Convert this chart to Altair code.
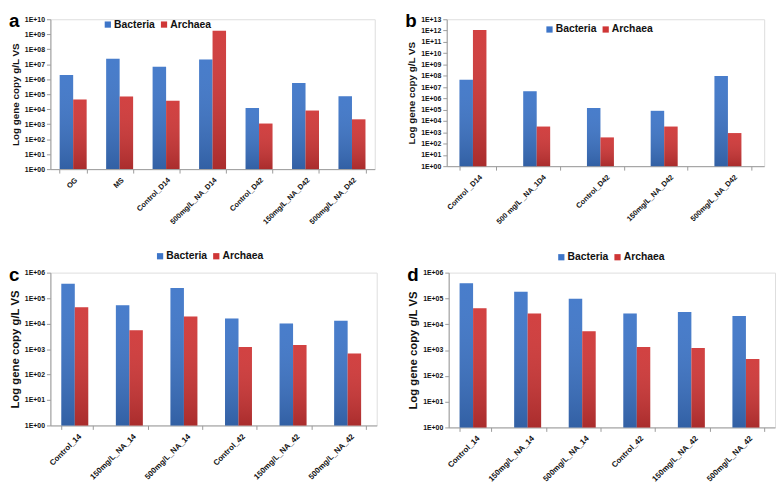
import altair as alt
import pandas as pd

SERIES = ["Bacteria", "Archaea"]
COLORS = ["#3d75c8", "#cf3636"]
FONT = "Liberation Sans"

a_cats = ["OG", "MS", "Control_D14", "500mg/L_NA_D14", "Control_D42", "150mg/L_NA_D42", "500mg/L_NA_D42"]
a_bac = [1.9e6, 2.3e7, 6.8e6, 2.1e7, 1.2e4, 5.5e5, 7.4e4]
a_arc = [4.5e4, 7.0e4, 3.6e4, 1.7e9, 1.1e3, 8.1e3, 2.1e3]

b_cats = ["Control _D14", "500 mg/L _NA_1D4", "Control_D42", "150mg/L_NA_D42", "500mg/L_NA_D42"]
b_bac = [4.5e7, 4.3e6, 1.4e5, 7.9e4, 9.3e7]
b_arc = [1.1e12, 3.2e3, 3.5e2, 3.2e3, 8.5e2]

c_cats = ["Control_14", "150mg/L_NA_14", "500mg/L_NA_14", "Control_42", "150mg/L_NA_42", "500mg/L_NA_42"]
c_bac = [3.7e5, 5.3e4, 2.5e5, 1.6e4, 1.0e4, 1.3e4]
c_arc = [4.4e4, 5.5e3, 1.9e4, 1.2e3, 1.45e3, 6.7e2]

d_cats = ["Control_14", "150mg/L_NA_14", "500mg/L_NA_14", "Control_42", "150mg/L_NA_42", "500mg/L_NA_42"]
d_bac = [3.9e5, 1.8e5, 9.7e4, 2.6e4, 3.0e4, 2.1e4]
d_arc = [4.2e4, 2.6e4, 5.3e3, 1.3e3, 1.2e3, 4.5e2]

LABEL_EXPR = "'1E+' + (datum.value < 1e10 ? '0' : '') + format(log(datum.value)/LN10, '.0f')"


def panel(letter, cats, bac, arc, top_exp, w, h, lx, ly, xfs, yfs, tfs):
    n = len(cats)
    df = pd.DataFrame({
        "cat": cats * 2,
        "series": ["Bacteria"] * n + ["Archaea"] * n,
        "value": bac + arc,
    })
    ticks = [10 ** k for k in range(top_exp + 1)]
    x = alt.X("cat:N", sort=cats, title=None,
              scale=alt.Scale(paddingInner=0.42, paddingOuter=0.2),
              axis=alt.Axis(labelAngle=-45, labelFont=FONT, labelFontWeight="bold",
                            labelFontSize=xfs, labelColor="#111", tickBand="extent",
                            domainColor="#9a9a9a", tickColor="#9a9a9a", tickSize=4,
                            labelPadding=3))
    y = alt.Y("value:Q",
              scale=alt.Scale(type="log", domain=[1, 10 ** top_exp], nice=False),
              axis=alt.Axis(values=ticks, labelExpr=LABEL_EXPR, title="Log gene copy g/L VS",
                            labelFont=FONT, labelFontWeight="bold", labelFontSize=yfs,
                            labelColor="#111", titleFont=FONT, titleFontWeight="bold",
                            titleFontSize=tfs, titleColor="#111", domainColor="#9a9a9a",
                            tickColor="#9a9a9a", tickSize=4, grid=False, titlePadding=4,
                            labelPadding=2))
    xo = alt.XOffset("series:N", sort=SERIES, scale=alt.Scale(domain=SERIES))
    base = alt.Chart(df).encode(x=x, xOffset=xo, y=y, y2=alt.datum(1))
    bars = base.mark_bar(strokeWidth=0).encode(
        color=alt.Color("series:N",
                        scale=alt.Scale(domain=SERIES, range=COLORS),
                        legend=alt.Legend(orient="none", legendX=lx, legendY=ly,
                                          direction="horizontal", title=None,
                                          symbolType="square", symbolSize=40,
                                          symbolStrokeWidth=0, labelFont=FONT,
                                          labelFontWeight="bold", labelFontSize=10.5,
                                          labelColor="#111", columnPadding=4,
                                          labelOffset=1, padding=0))
    )
    shade = base.mark_bar(
        strokeWidth=0,
        color=alt.Gradient(
            gradient="linear", x1=0, y1=0, x2=0, y2=1,
            stops=[alt.GradientStop(color="rgba(255,255,255,0.06)", offset=0),
                   alt.GradientStop(color="rgba(0,0,0,0.18)", offset=1)],
        ),
    )
    lab = alt.Chart(pd.DataFrame({"t": [letter]})).mark_text(
        font=FONT, fontSize=19, fontWeight="bold", align="left", baseline="top",
        x=-42, y=-7, color="#000",
    ).encode(text="t:N")
    return alt.layer(bars, shade, lab).properties(width=w, height=h)


pa = panel("a", a_cats, a_bac, a_arc, 10, 329, 152, 53, 0, 7.5, 7, 10)
pb = panel("b", b_cats, b_bac, b_arc, 13, 322, 149, 99, 5, 7.5, 7, 10)
pc = panel("c", c_cats, c_bac, c_arc, 6, 331, 155, 106, -22, 8, 7, 11.5)
pd_ = panel("d", d_cats, d_bac, d_arc, 6, 331, 157, 109, -21, 8, 7, 11.5)

chart = alt.vconcat(
    alt.hconcat(pa, pb, spacing=29).resolve_scale(color="independent"),
    alt.hconcat(pc, pd_, spacing=29).resolve_scale(color="independent"),
    spacing=24,
).resolve_scale(color="independent").properties(
    padding=0
).configure_view(stroke=None).configure(background="white")

chart.save("out.html", embed_options={"renderer": "svg", "actions": False})
